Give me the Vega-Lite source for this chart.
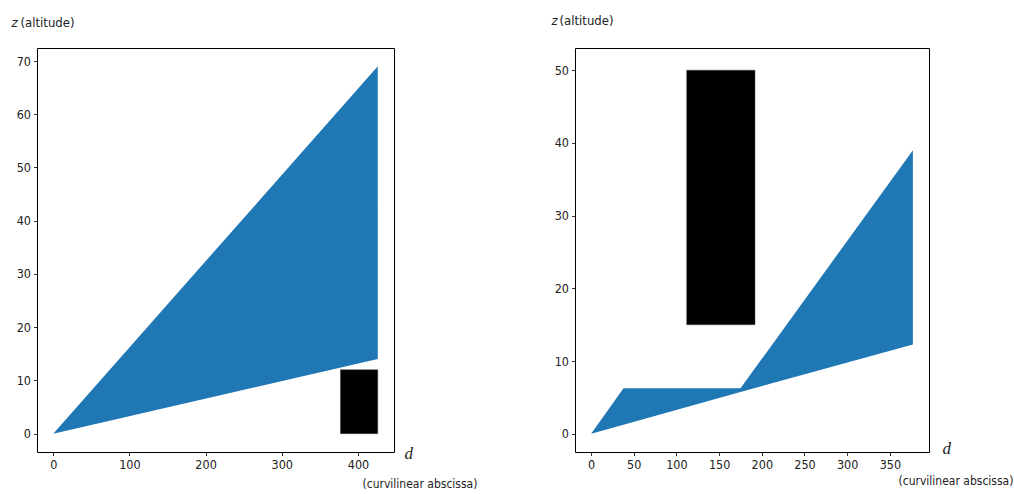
{
  "$schema": "https://vega.github.io/schema/vega-lite/v6.json",
  "background": "white",
  "autosize": {"type": "pad"},
  "padding": {"left": 10, "top": 13, "right": 0, "bottom": 0},
  "spacing": 181,
  "bounds": "flush",
  "config": {
    "view": {"stroke": "#000", "strokeWidth": 1},
    "axis": {
      "domain": false,
      "grid": false,
      "tickColor": "#000",
      "tickSize": 3.5,
      "tickWidth": 0.8,
      "labelFont": "Liberation Sans Narrow, DejaVu Sans Condensed, sans-serif",
      "labelFontSize": 12.5,
      "labelColor": "#222",
      "labelPadding": 3,
      "titleFont": "Liberation Sans Narrow, DejaVu Sans Condensed, sans-serif",
      "titleFontSize": 13,
      "titleFontWeight": "normal",
      "titleColor": "#222"
    }
  },
  "hconcat": [
    {
      "width": 357,
      "height": 404,
      "resolve": {"axis": {"x": "independent", "y": "independent"}},
      "layer": [
        {
          "data": {"values": [
            {"d": 0, "lower": 0, "upper": 0},
            {"d": 426, "lower": 14, "upper": 69}
          ]},
          "mark": {"type": "area", "color": "#1f77b4", "opacity": 1},
          "encoding": {
            "x": {"field": "d", "type": "quantitative",
              "scale": {"domain": [-21.3, 447.3], "nice": false, "zero": false},
              "axis": {"values": [0, 100, 200, 300, 400], "title": "d",
                "titleFont": "Liberation Serif", "titleFontStyle": "italic", "titleFontSize": 17,
                "titleAlign": "left", "titleBaseline": "middle", "titleX": 367, "titleY": 1}},
            "y": {"field": "lower", "type": "quantitative",
              "scale": {"domain": [-3.45, 72.45], "nice": false, "zero": false},
              "axis": {"values": [0, 10, 20, 30, 40, 50, 60, 70], "title": "z",
                "titleFontStyle": "italic", "titleAngle": 0, "titleAlign": "left",
                "titleBaseline": "middle", "titleX": -26, "titleY": -26}},
            "y2": {"field": "upper"}
          }
        },
        {
          "data": {"values": [{"d1": 377, "d2": 426, "z1": 0, "z2": 12}]},
          "mark": {"type": "rect", "color": "#000", "stroke": "#444", "strokeWidth": 0.5},
          "encoding": {
            "x": {"field": "d1", "type": "quantitative",
              "axis": {"orient": "bottom", "labels": false, "ticks": false,
                "title": "(curvilinear abscissa)", "titleFontSize": 12, "titleAlign": "left",
                "titleBaseline": "middle", "titleX": 325, "titleY": 31}},
            "x2": {"field": "d2"},
            "y": {"field": "z1", "type": "quantitative",
              "axis": {"orient": "left", "labels": false, "ticks": false,
                "title": "(altitude)", "titleAngle": 0, "titleAlign": "left",
                "titleBaseline": "middle", "titleX": -17, "titleY": -26}},
            "y2": {"field": "z2"}
          }
        }
      ]
    },
    {
      "width": 354,
      "height": 404,
      "resolve": {"axis": {"x": "independent", "y": "independent"}},
      "layer": [
        {
          "data": {"values": [
            {"d": 0, "lower": 0, "upper": 0},
            {"d": 38, "lower": 1.24, "upper": 6.25},
            {"d": 175, "lower": 5.75, "upper": 6.25},
            {"d": 377, "lower": 12.27, "upper": 39}
          ]},
          "mark": {"type": "area", "color": "#1f77b4", "opacity": 1},
          "encoding": {
            "x": {"field": "d", "type": "quantitative",
              "scale": {"domain": [-18.85, 395.85], "nice": false, "zero": false},
              "axis": {"values": [0, 50, 100, 150, 200, 250, 300, 350], "title": "d",
                "titleFont": "Liberation Serif", "titleFontStyle": "italic", "titleFontSize": 17,
                "titleAlign": "left", "titleBaseline": "middle", "titleX": 367, "titleY": -4}},
            "y": {"field": "lower", "type": "quantitative",
              "scale": {"domain": [-2.5, 53.05], "nice": false, "zero": false},
              "axis": {"values": [0, 10, 20, 30, 40, 50], "title": "z",
                "titleFontStyle": "italic", "titleAngle": 0, "titleAlign": "left",
                "titleBaseline": "middle", "titleX": -24, "titleY": -28}},
            "y2": {"field": "upper"}
          }
        },
        {
          "data": {"values": [{"d1": 112, "d2": 192, "z1": 15, "z2": 50}]},
          "mark": {"type": "rect", "color": "#000", "stroke": "#444", "strokeWidth": 0.5},
          "encoding": {
            "x": {"field": "d1", "type": "quantitative",
              "axis": {"orient": "bottom", "labels": false, "ticks": false,
                "title": "(curvilinear abscissa)", "titleFontSize": 12, "titleAlign": "left",
                "titleBaseline": "middle", "titleX": 323, "titleY": 28}},
            "x2": {"field": "d2"},
            "y": {"field": "z1", "type": "quantitative",
              "axis": {"orient": "left", "labels": false, "ticks": false,
                "title": "(altitude)", "titleAngle": 0, "titleAlign": "left",
                "titleBaseline": "middle", "titleX": -16, "titleY": -28}},
            "y2": {"field": "z2"}
          }
        }
      ]
    }
  ]
}
